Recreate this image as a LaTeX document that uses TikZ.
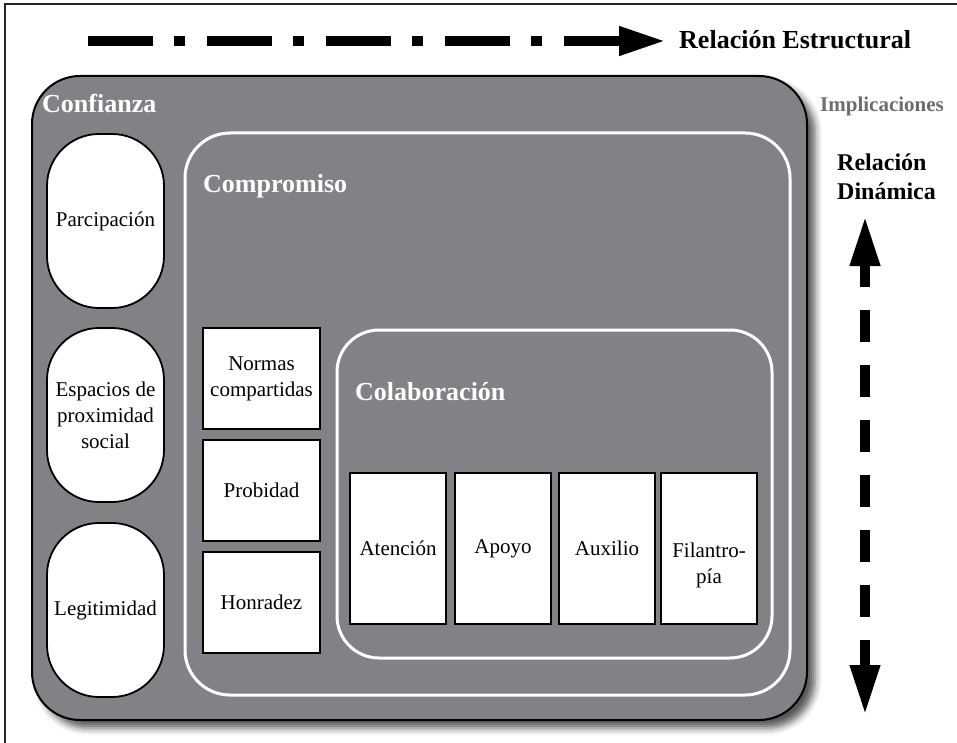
\documentclass[tikz,border=0pt]{standalone}
\usepackage{fontspec}
\setmainfont{Liberation Serif}
\usetikzlibrary{arrows.meta,shadows.blur,positioning}

\definecolor{panelgray}{RGB}{128,130,134}
\definecolor{notegray}{RGB}{108,109,113}
\newcommand{\cardfont}{\fontsize{21}{26}\selectfont}
\newcommand{\titlefont}{\fontsize{26}{30}\selectfont\bfseries}

\tikzset{
  panel/.style={draw=black, line width=2pt, fill=panelgray, rounded corners=48pt,
    blur shadow={shadow xshift=8pt, shadow yshift=-8pt, shadow blur radius=7pt, shadow opacity=65}},
  ring/.style={draw=white, line width=3pt, rounded corners=#1},
  pill/.style={draw=black, line width=1.8pt, fill=white, rounded corners=52pt,
    minimum width=117pt, minimum height=174pt, inner sep=0pt, align=center, font=\cardfont},
  card/.style={draw=black, line width=2pt, fill=white, inner sep=0pt, align=center, font=\cardfont},
  title/.style={text=white, font=\titlefont, inner sep=0pt, anchor=base west},
  note/.style={font=\fontsize{24}{29}\selectfont\bfseries, inner sep=0pt, anchor=base west},
  flow/.style={line width=10pt, -{Triangle[length=47pt,width=27pt]}},
  both flow/.style={line width=10pt, {Triangle[length=50pt,width=28pt]}-{Triangle[length=50pt,width=28pt]}}
}

\begin{document}
\begin{tikzpicture}[x=1pt, y=-1pt]
  \useasboundingbox (0,0) rectangle (957,743);
  % frame
  \draw[line width=2pt, black!85] (5,743) -- (5,4) -- (957,4);

  % containers
  \node[panel, minimum width=775pt, minimum height=644pt] (confianza) at (419.5,398) {};
  \node[ring=45pt, minimum width=605pt, minimum height=562pt] (compromiso) at (487.5,414) {};
  \node[ring=42pt, minimum width=435pt, minimum height=328pt] (colaboracion) at (554.5,494) {};
  \node[title] (confianza-t) at (42,113) {Confianza};
  \node[title] (compromiso-t) at (203,193) {Compromiso};
  \node[title] (colaboracion-t) at (355,400) {Colaboración};

  % pills of trust
  \node[pill] (participacion) at (105.5,221) {Parcipación};
  \node[pill] (espacios) at (105.5,415) {Espacios de\\proximidad\\social};
  \node[pill] (legitimidad) at (105.5,610) {Legitimidad};

  % cards of commitment
  \node[card, minimum width=117pt, minimum height=101pt] (normas) at (261.5,378.5) {Normas\\compartidas};
  \node[card, minimum width=117pt, minimum height=101pt] (probidad) at (261.5,490.5) {Probidad};
  \node[card, minimum width=117pt, minimum height=101pt] (honradez) at (261.5,602.5) {Honradez};

  % cards of collaboration
  \node[card, minimum width=96pt, minimum height=151pt] (atencion) at (398,548.5) {Atención};
  \node[card, minimum width=96pt, minimum height=151pt] (apoyo) at (503,548.5) {Apoyo};
  \node[card, minimum width=96pt, minimum height=151pt] (auxilio) at (607,548.5) {Auxilio};
  \node[card, minimum width=96pt, minimum height=151pt, text depth=0pt] (filantropia) at (709,548.5)
    {\begin{tabular}[t]{@{}c@{}}Filantro-\\pía\end{tabular}};

  % relations
  \coordinate (es-start) at (88,41);
  \coordinate (es-end) at (666,41);
  \draw[flow, dash pattern=on 65pt off 21pt on 11pt off 22pt] (es-start) -- (es-end);
  \node[note, font=\fontsize{26}{30}\selectfont\bfseries] (estructural) at (679,49) {Relación Estructural};

  \node[note, font=\fontsize{21}{25}\selectfont\bfseries, text=notegray] (implicaciones) at (820,112) {Implicaciones};
  \node[note] (dinamica) at (837,171) {\begin{tabular}[t]{@{}l@{}}Relación\\Dinámica\end{tabular}};
  \coordinate (dn-top) at (865,216);
  \coordinate (dn-bottom) at (865,715);
  \draw[both flow, dash pattern=on 32pt off 23pt, dash phase=9pt] (dn-top) -- (dn-bottom);
\end{tikzpicture}
\end{document}
